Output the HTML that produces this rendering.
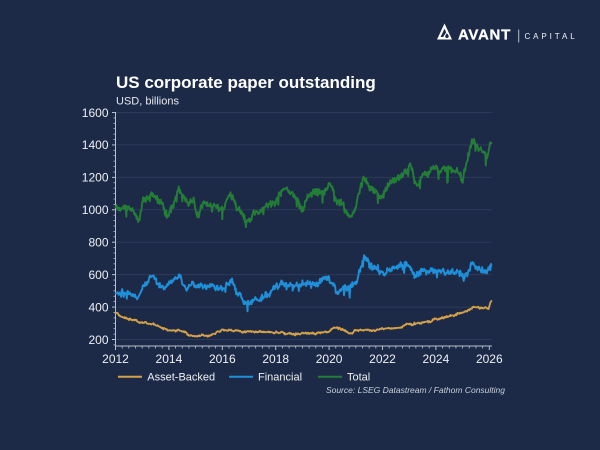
<!DOCTYPE html>
<html><head><meta charset="utf-8">
<style>
html,body{margin:0;padding:0;background:#1c2a48;}
svg{display:block;font-family:"Liberation Sans",Arial,sans-serif;}
</style></head>
<body>
<svg id="c" width="600" height="450" viewBox="0 0 600 450" xmlns="http://www.w3.org/2000/svg">
<rect width="600" height="450" fill="#1c2a48"/>
<!-- logo -->
<path d="M437,39.5 L444.5,23.5 L452,39.5 Z" fill="#ffffff"/>
<path d="M440.6,37 L444.5,28.6 L446.2,32.2 L443.2,37 Z" fill="#1c2a48"/>
<path d="M446.8,33.2 C448.6,35 449.2,36.3 448.4,37.4 C447.6,38.3 446,38.2 445.4,37.2 C444.9,36.3 445.6,34.8 446.8,33.2 Z" fill="#1c2a48"/>
<text x="458" y="39.5" font-size="15" font-weight="bold" fill="#ffffff" letter-spacing="0.7" stroke="#ffffff" stroke-width="0.3">AVANT</text>
<rect x="518.3" y="29.5" width="0.9" height="13" fill="#c9ced8"/>
<text x="524.5" y="39" font-size="8" fill="#f0f2f6" letter-spacing="2.9">CAPITAL</text>
<!-- titles -->
<text x="116" y="88" font-size="17" font-weight="bold" fill="#ffffff">US corporate paper outstanding</text>
<text x="116" y="104.5" font-size="11" fill="#e6e9ef">USD, billions</text>
<g id="grid" stroke="#2d3b5a" stroke-width="1"></g>
<g id="axes"></g>
<g id="labels" font-size="12" fill="#eef0f4"></g>
<g id="series" fill="none" stroke-linejoin="round" stroke-linecap="round"></g>
<!-- legend -->
<line x1="118" y1="376.7" x2="142" y2="376.7" stroke="#d5a148" stroke-width="2"/>
<text x="147.3" y="380.6" font-size="11" fill="#eef0f4">Asset-Backed</text>
<line x1="229" y1="376.7" x2="253" y2="376.7" stroke="#1f8fd8" stroke-width="2"/>
<text x="258" y="380.6" font-size="11" fill="#eef0f4">Financial</text>
<line x1="318" y1="376.7" x2="342" y2="376.7" stroke="#247d36" stroke-width="2"/>
<text x="347" y="380.6" font-size="11" fill="#eef0f4">Total</text>
<text x="505" y="393" font-size="8.5" font-style="italic" fill="#c9cfda" text-anchor="end">Source: LSEG Datastream / Fathom Consulting</text>
</svg>
<script>
(function(){
var NS="http://www.w3.org/2000/svg";
function X(t){return 115.5+(t-2012)*26.7;}
function Y(v){return 339.5-(v-200)*0.16214;}
function el(tag,attrs,parent,txt){var e=document.createElementNS(NS,tag);for(var k in attrs)e.setAttribute(k,attrs[k]);if(txt!=null)e.textContent=txt;parent.appendChild(e);return e;}
var grid=document.getElementById('grid'),axes=document.getElementById('axes'),labels=document.getElementById('labels'),series=document.getElementById('series');
var AX="#b9c0cd";
for(var v=200;v<=1600;v+=200){
  var y=Y(v);
  el('line',{x1:116,y1:y,x2:492,y2:y},grid);
  el('line',{x1:112,y1:y,x2:115.5,y2:y,stroke:AX,'stroke-width':1},axes);
  el('text',{x:108.5,y:y+4.3,'text-anchor':'end'},labels,String(v));
}
for(var m=-1;m<7*6;m++){
  if((m+6)%6===0)continue;
  var v=200+m*200/6;
  if(v<165||v>1600)continue;
  var y=Y(v);
  el('line',{x1:113.5,y1:y,x2:115.5,y2:y,stroke:AX,'stroke-width':0.8},axes);
}
el('line',{x1:115.5,y1:112,x2:115.5,y2:346,stroke:AX,'stroke-width':1},axes);
el('line',{x1:115.5,y1:346,x2:492,y2:346,stroke:AX,'stroke-width':1},axes);
for(var q=0;q<=14*4+1;q++){
  var t=2012+q/4;var x=X(t);if(x>492)break;
  var major=(q%8===0);
  el('line',{x1:x,y1:346,x2:x,y2:major?350:348.5,stroke:AX,'stroke-width':major?1:0.8},axes);
  if(major) el('text',{x:x,y:363,'text-anchor':'middle'},labels,String(t));
}
function mulberry32(a){return function(){a|=0;a=a+0x6D2B79F5|0;var t=Math.imul(a^a>>>15,1|a);t=t+Math.imul(t^t>>>7,61|t)^t;return((t^t>>>14)>>>0)/4294967296;};}
function make(anchors,sd,phi,wn,spikeP,spikeA,seed,color,w){
  var rnd=mulberry32(seed);
  function g(){var u=rnd()||1e-9,v=rnd();return Math.sqrt(-2*Math.log(u))*Math.cos(2*Math.PI*v);}
  var t0=anchors[0][0],t1=anchors[anchors.length-1][0];
  var N=Math.round((t1-t0)*52),k=0,e=0,pts=[];
  for(var i=0;i<=N;i++){
    var t=t0+(t1-t0)*i/N;
    while(k<anchors.length-2&&t>anchors[k+1][0])k++;
    var a=anchors[k],b=anchors[k+1];
    var f=(t-a[0])/(b[0]-a[0]);f=Math.max(0,Math.min(1,f));f=(1-Math.cos(Math.PI*f))/2;
    var v=a[1]+(b[1]-a[1])*f;
    e=phi*e+sd*g();
    var s=0;if(rnd()<spikeP)s=-spikeA*(0.5+rnd());
    v+=e+wn*g()+s;
    if(i===0)v=anchors[0][1];
    if(i===N)v=anchors[anchors.length-1][1];
    pts.push(X(t).toFixed(1)+','+Y(v).toFixed(1));
  }
  el('polyline',{points:pts.join(' '),stroke:color,'stroke-width':w},series);
}
var AB=[[2012.0,362],[2012.3,335],[2012.55,325],[2013.04,304],[2013.3,300],[2014.04,259],[2014.4,255],[2014.9,222],[2015.5,228],[2016.16,262],[2016.5,256],[2017.04,248],[2017.8,245],[2018.8,233],[2019.5,240],[2019.9,250],[2020.2,272],[2020.5,258],[2020.8,238],[2021.04,257],[2021.5,258],[2022.03,268],[2022.5,270],[2023.03,298],[2023.5,305],[2024.03,324],[2024.5,345],[2025.03,368],[2025.46,402],[2025.84,392],[2025.95,388],[2026.08,438]];
var FIN=[[2012.0,485],[2012.3,495],[2012.6,480],[2012.85,455],[2013.1,545],[2013.4,590],[2013.6,545],[2013.8,522],[2014.1,560],[2014.4,585],[2014.6,525],[2015.0,530],[2015.4,532],[2015.8,525],[2016.0,505],[2016.35,560],[2016.6,480],[2016.95,415],[2017.3,450],[2017.7,480],[2018.1,545],[2018.5,540],[2019.0,532],[2019.5,550],[2019.95,580],[2020.15,530],[2020.3,495],[2020.6,520],[2020.9,540],[2021.35,700],[2021.6,655],[2022.0,612],[2022.5,640],[2022.95,672],[2023.2,600],[2023.6,630],[2024.0,630],[2024.5,612],[2024.9,622],[2025.0,585],[2025.4,670],[2025.6,640],[2025.85,612],[2026.08,655]];
var TOT=[[2012.0,1015],[2012.3,1010],[2012.6,1000],[2012.9,955],[2013.05,1060],[2013.4,1085],[2013.7,1045],[2013.95,962],[2014.1,1040],[2014.4,1110],[2014.7,1050],[2014.95,1050],[2015.05,965],[2015.3,1040],[2015.7,1030],[2015.95,1000],[2016.3,1095],[2016.6,1010],[2016.95,925],[2017.3,980],[2017.85,1040],[2018.4,1135],[2018.75,1075],[2019.0,1012],[2019.2,1075],[2019.5,1105],[2019.8,1100],[2020.05,1150],[2020.35,1050],[2020.8,955],[2021.35,1185],[2021.6,1120],[2021.9,1085],[2022.5,1190],[2022.8,1220],[2023.05,1275],[2023.2,1170],[2023.6,1210],[2023.95,1245],[2024.4,1250],[2024.8,1235],[2025.0,1190],[2025.05,1250],[2025.4,1425],[2025.65,1370],[2025.9,1330],[2026.08,1410]];
make(AB,2.2,0.7,1.8,0.0,0,7,"#d5a148",1.8);
make(FIN,7,0.55,6.5,0.03,35,21,"#1f8fd8",1.9);
make(TOT,8,0.55,8,0.03,45,99,"#247d36",1.9);
})();
</script>
</body></html>
